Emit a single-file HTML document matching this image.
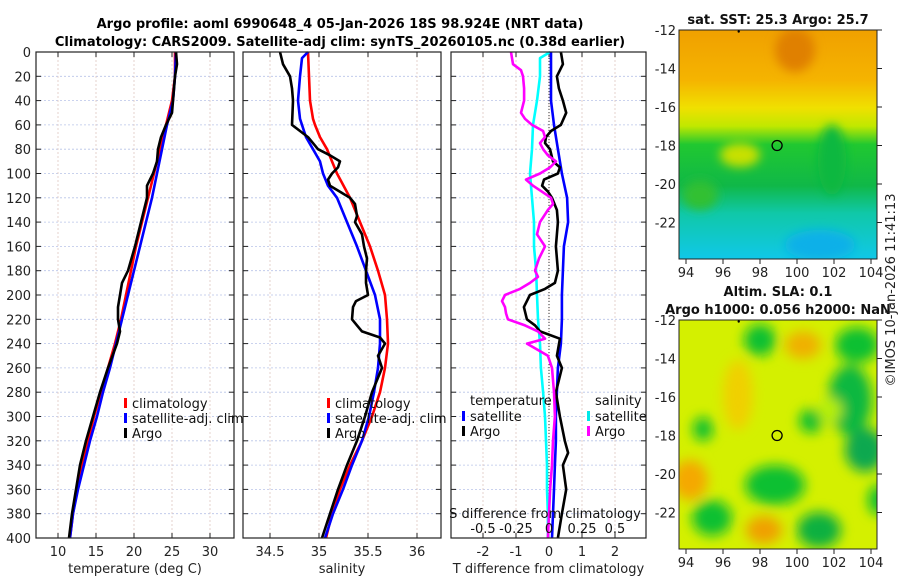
<!DOCTYPE html>
<html><head><meta charset="utf-8">
<style>
html,body{margin:0;padding:0;background:#fff;}
svg{display:block;font-family:"DejaVu Sans","Liberation Sans",sans-serif;}
</style></head>
<body>
<svg id="fig" width="900" height="580" viewBox="0 0 900 580" xmlns="http://www.w3.org/2000/svg">
<defs>
<filter id="blur6" x="-50%" y="-50%" width="200%" height="200%"><feGaussianBlur stdDeviation="5"/></filter>
<filter id="blur10" x="-50%" y="-50%" width="200%" height="200%"><feGaussianBlur stdDeviation="6"/></filter>
<clipPath id="clipTop"><rect x="679" y="30" width="198" height="229"/></clipPath>
<clipPath id="clipBot"><rect x="679" y="320" width="198" height="229"/></clipPath>
<linearGradient id="sstGrad" x1="0" y1="0" x2="0" y2="1">
<stop offset="0" stop-color="#f0a000"/><stop offset="0.22" stop-color="#f5b400"/>
<stop offset="0.34" stop-color="#f0e000"/><stop offset="0.42" stop-color="#c0e800"/>
<stop offset="0.50" stop-color="#20c830"/><stop offset="0.68" stop-color="#10b848"/>
<stop offset="0.80" stop-color="#10c8a8"/><stop offset="1" stop-color="#10c8e8"/>
</linearGradient>
</defs>
<g font-size="13" font-weight="bold" fill="#000" text-anchor="middle">
<text x="340" y="28">Argo profile: aoml 6990648_4 05-Jan-2026 18S 98.924E (NRT data)</text>
<text x="340" y="46">Climatology: CARS2009. Satellite-adj clim: synTS_20260105.nc (0.38d earlier)</text>
</g>
<g id="panels"></g>
<g id="maps"></g>
<text x="0" y="0" transform="translate(895,290) rotate(-90)" text-anchor="middle" font-size="13" fill="#222">©IMOS 10-Jan-2026 11:41:13</text>
</svg>
<script>
// ---- data (depth in m) ----
const tempClimDepth=[0,20,40,60,80,100,120,140,160,180,200,220,240,260,280,300,320,340,360,380,400];
const tempClim=[25.39,25.39,25.0,24.21,23.42,22.63,21.84,21.05,20.26,19.6,18.95,18.29,17.5,16.58,15.66,14.74,13.95,13.16,12.5,11.97,11.58];
const tempSat=[25.53,25.39,25.13,24.34,23.68,23.03,22.37,21.58,20.79,20.0,19.21,18.42,17.63,16.84,15.92,15.13,14.21,13.42,12.63,11.97,11.58];
const tempArgoDepth=[0,10,20,40,50,60,70,80,90,100,110,120,140,160,180,190,200,210,220,230,240,260,280,300,320,340,360,380,400];
const tempArgo=[25.53,25.66,25.39,25.13,25.0,24.21,23.55,23.16,23.03,22.5,21.71,21.71,20.92,20.13,19.21,18.42,18.16,17.89,17.89,18.16,17.76,16.58,15.53,14.61,13.68,12.89,12.37,11.84,11.45];

const salClimDepth=[0,20,40,55,60,70,80,100,120,140,160,180,200,220,240,260,280,300,320,340,360,380,400];
const salClim=[34.888,34.898,34.908,34.939,34.959,35.010,35.082,35.184,35.316,35.418,35.520,35.602,35.673,35.694,35.704,35.673,35.622,35.541,35.439,35.316,35.214,35.133,35.071];
const salSatDepth=[0,5,20,40,55,70,80,90,100,110,120,140,160,180,200,220,240,260,280,300,320,340,360,380,400];
const salSat=[34.888,34.827,34.806,34.786,34.806,34.867,34.939,35.010,35.041,35.092,35.184,35.286,35.388,35.480,35.571,35.622,35.622,35.602,35.561,35.510,35.439,35.337,35.245,35.143,35.061];
const salArgoDepth=[0,10,20,30,40,60,65,70,80,85,90,95,100,105,110,115,120,125,135,140,150,160,170,180,190,200,205,210,220,225,230,235,240,250,260,270,280,300,320,340,360,380,400];
const salArgo=[34.602,34.633,34.704,34.724,34.735,34.724,34.806,34.888,34.990,35.112,35.214,35.194,35.133,35.092,35.112,35.214,35.316,35.367,35.388,35.367,35.439,35.459,35.490,35.480,35.480,35.500,35.378,35.347,35.337,35.388,35.439,35.622,35.673,35.602,35.643,35.592,35.541,35.469,35.388,35.286,35.194,35.112,35.031];

const dTSatDepth=[0,20,40,60,80,100,120,140,160,180,200,220,240,260,280,300,320,340,360,380,400];
const dTSat=[0.06,0.06,0.06,0.15,0.27,0.39,0.55,0.58,0.45,0.42,0.39,0.39,0.36,0.27,0.24,0.21,0.21,0.18,0.15,0.12,0.09];
const dTArgoDepth=[0,5,10,20,30,40,50,60,65,70,75,80,90,95,100,105,110,115,120,130,140,160,180,190,195,200,205,210,220,225,230,236,250,260,280,300,320,330,340,360,380,400];
const dTArgo=[0.36,0.39,0.42,0.24,0.30,0.42,0.52,0.36,0.06,-0.09,-0.12,0.03,0.12,0.33,0.27,-0.15,-0.21,-0.03,0.09,0.24,0.27,0.21,0.27,0.18,-0.12,-0.58,-0.67,-0.76,-0.67,-0.42,-0.27,0.33,0.24,0.39,0.21,0.33,0.48,0.58,0.42,0.52,0.39,0.27];
const dSSatDepth=[0,5,20,40,60,80,100,120,140,160,180,200,220,240,260,280,300,320,340,360,380,400];
const dSSat=[0.008,-0.068,-0.068,-0.091,-0.121,-0.129,-0.144,-0.129,-0.114,-0.114,-0.098,-0.091,-0.083,-0.068,-0.061,-0.045,-0.030,-0.023,-0.015,-0.015,-0.008,-0.008];
const dSArgoDepth=[0,10,15,20,30,40,50,55,60,65,70,75,80,85,90,95,100,105,110,115,120,125,130,140,150,160,170,180,185,190,195,200,205,210,215,220,225,230,236,240,250,260,280,300,320,340,360,380,400];
const dSArgo=[-0.288,-0.273,-0.212,-0.197,-0.189,-0.189,-0.212,-0.182,-0.129,-0.045,-0.030,-0.068,-0.045,-0.008,0.053,0.008,-0.068,-0.174,-0.121,-0.053,0.015,0.030,-0.008,-0.068,-0.091,-0.030,-0.076,-0.106,-0.083,-0.144,-0.220,-0.333,-0.356,-0.333,-0.326,-0.311,-0.182,-0.083,-0.030,-0.167,-0.008,0.023,0.038,0.045,0.030,0.023,0.008,0.000,-0.008];

const depthTicks=[0,20,40,60,80,100,120,140,160,180,200,220,240,260,280,300,320,340,360,380,400];
const tempTicks=[10,15,20,25,30];
const salTicks=[34.5,35,35.5,36];
const salTickLabels=["34.5","35","35.5","36"];
const dTTicks=[-2,-1,0,1,2];
const dSTicks=[-0.5,-0.25,0,0.25,0.5];
const dSTickLabels=["-0.5","-0.25","0","0.25","0.5"];
const latTicks=[-12,-14,-16,-18,-20,-22];
const lonTicks=[94,96,98,100,102,104];

// ---- helpers ----
const NS="http://www.w3.org/2000/svg";
function mk(tag,attrs,parent){const e=document.createElementNS(NS,tag);for(const k in attrs)e.setAttribute(k,attrs[k]);parent.appendChild(e);return e;}
const Y0=52,Y1=538;
const yDepth=d=>Y0+(d/400)*(Y1-Y0);
const xT=v=>58+(v-10)*7.6;
const xS=v=>270+(v-34.5)*98;
const xDT=v=>549+v*33;
const xDS=v=>549+v*132;
const panels=document.getElementById('panels');

function panel(name,x0,x1,xs,ticks,labels,xlabel){
  const g=mk('g',{},panels);
  
  
  depthTicks.forEach(d=>{const l=mk('line',{x1:x0,x2:x1,y1:yDepth(d),y2:yDepth(d),stroke:'#b8c4e8','stroke-width':0.8,'stroke-dasharray':'2,2'},g);
    });
  ticks.forEach(t=>{const l=mk('line',{x1:xs(t),x2:xs(t),y1:Y0,y2:Y1,stroke:'#e0c8c0','stroke-width':0.8,'stroke-dasharray':'2,2'},g);
    });
  depthTicks.forEach(d=>{mk('line',{x1:x0,x2:x0+5,y1:yDepth(d),y2:yDepth(d),stroke:'#222'},g);mk('line',{x1:x1-5,x2:x1,y1:yDepth(d),y2:yDepth(d),stroke:'#222'},g);});
  ticks.forEach(t=>{mk('line',{x1:xs(t),x2:xs(t),y1:Y1,y2:Y1-5,stroke:'#222'},g);mk('line',{x1:xs(t),x2:xs(t),y1:Y0,y2:Y0+5,stroke:'#222'},g);});
  if(labels){ticks.forEach((t,i)=>{const tx=mk('text',{x:xs(t),y:556,'text-anchor':'middle','font-size':13,fill:'#222'},g);tx.textContent=labels[i];
    });}
  const xl=mk('text',{x:(x0+x1)/2,y:573,'text-anchor':'middle','font-size':13,fill:'#222'},g);xl.textContent=xlabel;
  
  return g;
}
function line(g,name,depths,vals,xs,color){
  const pts=depths.map((d,i)=>xs(vals[i]).toFixed(1)+','+yDepth(d).toFixed(1)).join(' ');
  const p=mk('polyline',{points:pts,fill:'none',stroke:color,'stroke-width':2.6,'stroke-linejoin':'round'},g);
  
  
}
function frame(g,x0,x1){const r=mk('rect',{x:x0,y:Y0,width:x1-x0,height:Y1-Y0,fill:'none',stroke:'#222','stroke-width':1.2},g);
  }
function legend(g,x,y,entries){
  entries.forEach((e,i)=>{const yy=y+i*15;
    mk('rect',{x:x,y:yy-10,width:3,height:10,fill:e[1]},g);
    const t=mk('text',{x:x+8,y:yy,'font-size':13,fill:'#111'},g);t.textContent=e[0];
    });
}

// Panel 1: temperature
let g1=panel('temperature-panel',36,234,xT,tempTicks,tempTicks.map(String),'temperature (deg C)');
depthTicks.forEach(d=>{const t=mk('text',{x:31,y:yDepth(d)+5,'text-anchor':'end','font-size':13,fill:'#222'},g1);t.textContent=d;
  });
line(g1,'temperature-climatology-line',tempClimDepth,tempClim,xT,'#ff0000');
line(g1,'temperature-satellite-line',tempClimDepth,tempSat,xT,'#0000ff');
line(g1,'temperature-argo-line',tempArgoDepth,tempArgo,xT,'#000');
frame(g1,36,234);
legend(g1,124,408,[['climatology','#ff0000'],['satellite-adj. clim','#0000ff'],['Argo','#000']]);

// Panel 2: salinity
let g2=panel('salinity-panel',243,441,xS,salTicks,salTickLabels,'salinity');
line(g2,'salinity-climatology-line',salClimDepth,salClim,xS,'#ff0000');
line(g2,'salinity-satellite-line',salSatDepth,salSat,xS,'#0000ff');
line(g2,'salinity-argo-line',salArgoDepth,salArgo,xS,'#000');
frame(g2,243,441);
legend(g2,327,408,[['climatology','#ff0000'],['satellite-adj. clim','#0000ff'],['Argo','#000']]);

// Panel 3: differences
let g3=panel('difference-panel',451,646,xDT,dTTicks,dTTicks.map(String),'T difference from climatology');
const z=mk('line',{x1:xDT(0),x2:xDT(0),y1:Y0,y2:Y1,stroke:'#333','stroke-width':1,'stroke-dasharray':'1,2'},g3);

line(g3,'salinity-satellite-diff-line',dSSatDepth,dSSat,xDS,'#00ffff');
line(g3,'temperature-satellite-diff-line',dTSatDepth,dTSat,xDT,'#0000ff');
line(g3,'temperature-argo-diff-line',dTArgoDepth,dTArgo,xDT,'#000');
line(g3,'salinity-argo-diff-line',dSArgoDepth,dSArgo,xDS,'#ff00ff');
frame(g3,451,646);
dSTicks.forEach((t,i)=>{const tx=mk('text',{x:xDS(t),y:533,'text-anchor':'middle','font-size':13,fill:'#111'},g3);tx.textContent=dSTickLabels[i];
  });
let st=mk('text',{x:545,y:518,'text-anchor':'middle','font-size':13,fill:'#111'},g3);st.textContent='S difference from climatology';

let h1=mk('text',{x:470,y:405,'font-size':13,fill:'#111'},g3);h1.textContent='temperature';

let h2=mk('text',{x:595,y:405,'font-size':13,fill:'#111'},g3);h2.textContent='salinity';

legend(g3,462,421,[['satellite','#0000ff'],['Argo','#000']]);
legend(g3,587,421,[['satellite','#00e8e8'],['Argo','#ff00ff']]);

// ---- maps ----
const maps=document.getElementById('maps');
function mapAxes(g,x0,y0,title1,title2){
  const lonX=v=>686+(v-94)*18.5, latY=v=>y0+(-12-v)*19.25;
  mk('rect',{x:x0,y:y0,width:198,height:229,fill:'none',stroke:'#222','stroke-width':1},g);
  latTicks.forEach(v=>{const y=latY(v);mk('line',{x1:x0+198,x2:x0+203,y1:y,y2:y,stroke:'#222'},g);
    const t=mk('text',{x:x0-3,y:y+5,'text-anchor':'end','font-size':13,fill:'#222'},g);t.textContent=v;
    });
  lonTicks.forEach(v=>{const x=lonX(v);mk('line',{x1:x,x2:x,y1:y0+229,y2:y0+234,stroke:'#222'},g);
    const t=mk('text',{x:x,y:y0+247,'text-anchor':'middle','font-size':13,fill:'#222'},g);t.textContent=v;
    });
  const c=mk('circle',{cx:lonX(98.924),cy:latY(-18),r:5,fill:'none',stroke:'#000','stroke-width':1.3},g);
  
  mk('circle',{cx:lonX(96.85),cy:y0+1.5,r:1.2,fill:'#000'},g);
  const t1=mk('text',{x:x0+99,y:y0-(title2?24:6),'text-anchor':'middle','font-size':13,'font-weight':'bold',fill:'#111'},g);t1.textContent=title1;
  
  if(title2){const t2=mk('text',{x:x0+99,y:y0-6,'text-anchor':'middle','font-size':13,'font-weight':'bold',fill:'#111'},g);t2.textContent=title2;
    }
}
// SST map
let gm1=mk('g',{},maps);


let im1=mk('g',{'clip-path':'url(#clipTop)'},gm1);
mk('rect',{x:679,y:30,width:198,height:229,fill:'url(#sstGrad)'},im1);
let b1=mk('g',{filter:'url(#blur6)'},im1);
mk('ellipse',{cx:795,cy:50,rx:20,ry:22,fill:'#e08000'},b1);
mk('ellipse',{cx:832,cy:160,rx:14,ry:35,fill:'#10b840'},b1);
mk('ellipse',{cx:740,cy:155,rx:20,ry:12,fill:'#c8e000'},b1);
mk('ellipse',{cx:700,cy:195,rx:18,ry:15,fill:'#30c030'},b1);
mk('ellipse',{cx:820,cy:245,rx:35,ry:15,fill:'#10b0e8'},b1);
mapAxes(gm1,679,30,'sat. SST: 25.3 Argo: 25.7',null);
// SLA map
let gm2=mk('g',{},maps);


let im2=mk('g',{'clip-path':'url(#clipBot)'},gm2);
mk('rect',{x:679,y:320,width:198,height:229,fill:'#d4f000'},im2);
let b2=mk('g',{filter:'url(#blur10)'},im2);
[[760,340,16,16,'#10c030'],[857,345,22,18,'#10c030'],[703,429,10,12,'#10c030'],[811,421,12,12,'#10c030'],
 [850,400,22,35,'#10b840'],[865,450,20,22,'#10a850'],[775,485,30,20,'#10c030'],[712,518,20,18,'#10c030'],
 [819,530,22,18,'#10b040'],[878,500,10,15,'#10c030'],[803,345,18,14,'#f0b000'],[690,480,18,20,'#f5a800'],
 [764,530,18,14,'#f0a000'],[738,395,15,35,'#f0d000'],[830,410,12,12,'#b8f000']]
 .forEach(a=>mk('ellipse',{cx:a[0],cy:a[1],rx:a[2],ry:a[3],fill:a[4]},b2));
mapAxes(gm2,679,320,'Altim. SLA: 0.1','Argo h1000: 0.056 h2000: NaN');
</script>
</body></html>
